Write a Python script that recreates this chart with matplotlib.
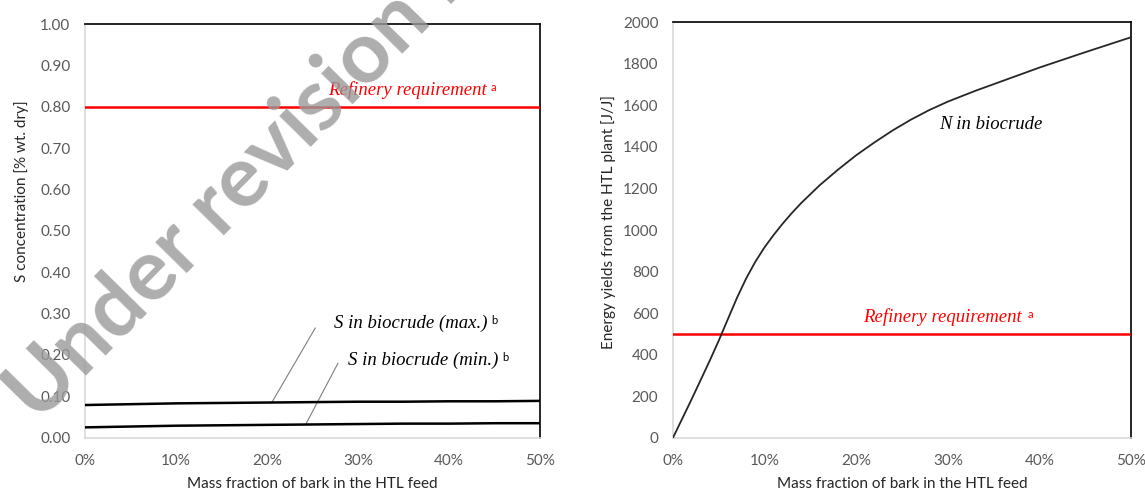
import matplotlib
matplotlib.use("Agg")
import matplotlib.pyplot as plt

# ---- data ----
x_left = [0, 5, 10, 15, 20, 25, 30, 35, 40, 45, 50]
s_max = [0.079, 0.081, 0.083, 0.084, 0.085, 0.086, 0.087, 0.087, 0.088, 0.088, 0.089]
s_min = [0.025, 0.027, 0.029, 0.030, 0.031, 0.032, 0.033, 0.034, 0.034, 0.035, 0.035]
s_req = 0.80

x_right = [0, 2, 4, 5, 6, 7, 8, 9, 10, 11, 12, 13, 14, 16, 18, 20, 22, 24, 26, 28, 30, 33, 36, 40, 45, 50]
n_bio = [0, 182, 370, 468, 572, 675, 768, 848, 917, 977, 1032, 1083, 1130, 1215, 1290, 1360, 1422, 1480, 1532, 1578, 1618, 1670, 1718, 1782, 1856, 1928]
n_req = 500

left_yticks = [0.0, 0.1, 0.2, 0.3, 0.4, 0.5, 0.6, 0.7, 0.8, 0.9, 1.0]
right_yticks = [0, 200, 400, 600, 800, 1000, 1200, 1400, 1600, 1800, 2000]
xticks = [0, 10, 20, 30, 40, 50]

TICK_COLOR = "#595959"
LABEL_COLOR = "#262626"
GRID_GRAY = "#D9D9D9"
RED = "#FF0000"
SANS = "Lato"
SERIF = ["Liberation Serif", "DejaVu Serif"]

W, H = 1145, 493
fig = plt.figure(figsize=(W/100, H/100), dpi=100)
axL = fig.add_axes([85/W, 1-437.7/H, (540-85)/W, (437.7-24)/H])
axR = fig.add_axes([673/W, 1-437.7/H, (1131-673)/W, (437.7-22.3)/H])

def style(ax, yticks, yfmt):
    ax.set_xlim(0, 50)
    ax.set_ylim(yticks[0], yticks[-1])
    ax.set_xticks(xticks)
    ax.set_xticklabels([f"{t}%" for t in xticks])
    ax.set_yticks(yticks)
    ax.set_yticklabels([yfmt(v) for v in yticks])
    ax.tick_params(length=0, labelsize=11, labelcolor=TICK_COLOR)
    ax.tick_params(axis="x", pad=12)
    ax.tick_params(axis="y", pad=10.5)
    for lab in ax.get_xticklabels() + ax.get_yticklabels():
        lab.set_fontfamily(SANS)
    for side in ("left", "bottom"):
        ax.spines[side].set_color(GRID_GRAY)
        ax.spines[side].set_linewidth(1.2)
    for side in ("top", "right"):
        ax.spines[side].set_color("black")
        ax.spines[side].set_linewidth(1.2)
    ax.set_xlabel("Mass fraction of bark in the HTL feed", fontsize=11, color=LABEL_COLOR,
                  fontfamily=SANS)
    ax.xaxis.set_label_coords(0.5, -0.095)

main_kw = dict(fontsize=13.5, style="italic", family=SERIF, ha="right", va="center")
sup_kw = dict(fontsize=8, family=SANS, ha="left", va="center")

def note(ax, x_end, y, text, sup, color, dx, dy):
    ax.text(x_end, y, text, color=color, **main_kw)
    ax.text(x_end + dx, y + dy, sup, color=color, **sup_kw)

# ---- left panel ----
style(axL, left_yticks, lambda v: f"{v:.2f}")
axL.set_ylabel("S concentration [% wt. dry]", fontsize=11, color=LABEL_COLOR, fontfamily=SANS)
axL.yaxis.set_label_coords(-0.122, 0.596)
axL.axhline(s_req, color=RED, lw=1.8, zorder=3)
axL.plot(x_left, s_max, color="black", lw=1.8, zorder=3)
axL.plot(x_left, s_min, color="black", lw=1.8, zorder=3)
note(axL, 44.2, 0.840, "Refinery requirement", "a", RED, 0.4, 0.006)
note(axL, 44.2, 0.2765, "S in biocrude (max.)", "b", "black", 0.4, 0.006)
note(axL, 45.4, 0.188, "S in biocrude (min.)", "b", "black", 0.4, 0.006)
axL.plot([25.3, 20.5], [0.265, 0.084], color="#7F7F7F", lw=0.8, zorder=2)
axL.plot([27.8, 24.3], [0.180, 0.034], color="#7F7F7F", lw=0.8, zorder=2)

# ---- right panel ----
style(axR, right_yticks, lambda v: f"{v:d}")
axR.set_ylabel("Energy yields from the HTL plant [J/J]", fontsize=11, color=LABEL_COLOR, fontfamily=SANS)
axR.yaxis.set_label_coords(-0.125, 0.519)
axR.axhline(n_req, color=RED, lw=1.8, zorder=3)
axR.plot(x_right, n_bio, color="#262626", lw=1.3, zorder=3)
axR.text(34.7, 1510, "N in biocrude", color="black", fontsize=13.5, style="italic",
         family=SERIF, ha="center", va="center")
note(axR, 38.1, 583, "Refinery requirement", "a", RED, 0.6, 12)

# ---- watermark ----
fig.text(38/W, 1-424/H, "Under revision by", fontsize=62, fontfamily=SANS, fontweight="bold",
         color="#999999", alpha=0.8, rotation=45.5, rotation_mode="anchor",
         ha="left", va="baseline", zorder=10)

fig.savefig("out.png", dpi=100)
